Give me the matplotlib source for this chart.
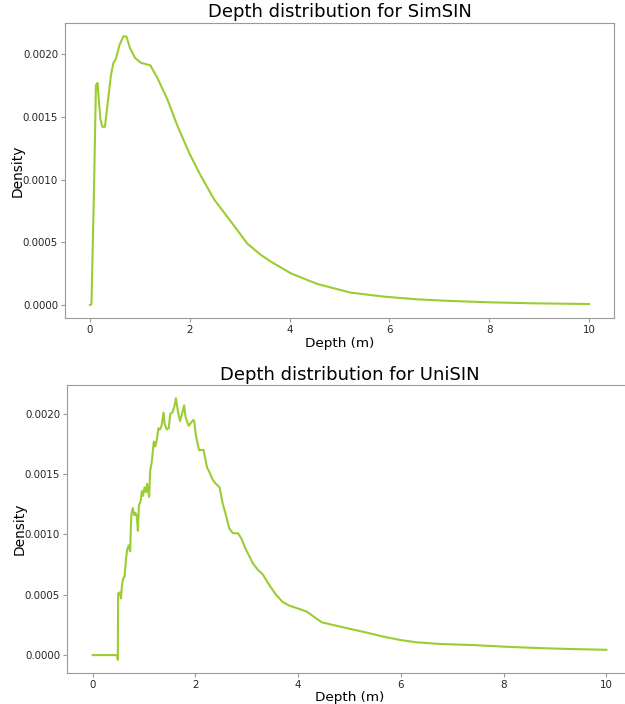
import numpy as np
import matplotlib
matplotlib.use("Agg")
import matplotlib.pyplot as plt
from matplotlib.ticker import FormatStrFormatter

# SimSIN depth density
sim_depth = [0.0, 0.03, 0.08, 0.12, 0.153, 0.18, 0.21, 0.25, 0.30, 0.35,
             0.42, 0.47, 0.52, 0.59, 0.67, 0.73, 0.80, 0.90, 1.02, 1.21,
             1.35, 1.55, 1.75, 1.99, 2.22, 2.49, 2.89, 3.15, 3.42, 3.62,
             4.02, 4.55, 5.22, 5.89, 6.55, 7.22, 8.02, 8.89, 10.0]
sim_density = [0.0, 0.000008, 0.0009, 0.00175, 0.00177, 0.00162, 0.00148, 0.00142, 0.00142, 0.00159,
               0.00183, 0.00193, 0.00196, 0.00207, 0.00214, 0.00214, 0.00205, 0.00197, 0.00193, 0.00191,
               0.00181, 0.00164, 0.00143, 0.00121, 0.00103, 0.00084, 0.00063, 0.00049, 0.00040, 0.000347,
               0.000253, 0.000168, 0.0000987, 0.0000667, 0.0000453, 0.000032, 0.0000213, 0.0000133, 0.000008]

# UniSIN depth density
uni_depth = [0.0, 0.48, 0.49, 0.495, 0.53, 0.55, 0.57, 0.59, 0.62, 0.65,
             0.67, 0.70, 0.73, 0.75, 0.78, 0.81, 0.83, 0.86, 0.88, 0.90,
             0.93, 0.96, 0.98, 1.01, 1.04, 1.06, 1.10, 1.12, 1.15, 1.19,
             1.22, 1.25, 1.28, 1.31, 1.34, 1.38, 1.40, 1.44, 1.48, 1.51,
             1.55, 1.59, 1.62, 1.66, 1.70, 1.74, 1.78, 1.81, 1.87, 1.92,
             1.96, 1.98, 2.01, 2.07, 2.11, 2.16, 2.20, 2.23, 2.27, 2.34,
             2.40, 2.47, 2.53, 2.60, 2.66, 2.73, 2.83, 2.89, 2.99, 3.12,
             3.21, 3.31, 3.44, 3.57, 3.70, 3.83, 4.04, 4.17, 4.30, 4.46,
             4.88, 5.34, 5.66, 5.99, 6.31, 6.77, 7.42, 8.07, 8.71, 9.36,
             10.0]
uni_density = [0.0, 0.0, -0.00004, 0.00051, 0.00052, 0.00047, 0.00058, 0.00063, 0.00065, 0.00080,
               0.00087, 0.00091, 0.00086, 0.00115, 0.00122, 0.00116, 0.00118, 0.00115, 0.00103, 0.00124,
               0.00127, 0.00136, 0.00132, 0.00139, 0.00135, 0.00142, 0.00131, 0.00153, 0.00160, 0.00177,
               0.00173, 0.00179, 0.00188, 0.00187, 0.00190, 0.00201, 0.00192, 0.00187, 0.00188, 0.00200,
               0.00201, 0.00206, 0.00213, 0.00202, 0.00194, 0.00200, 0.00207, 0.00197, 0.00190, 0.00193,
               0.00195, 0.00193, 0.00182, 0.00170, 0.00170, 0.00170, 0.00161, 0.00155, 0.00152, 0.00145,
               0.00142, 0.00139, 0.00126, 0.00115, 0.00105, 0.00101, 0.00101, 0.00097, 0.00087, 0.00076,
               0.00071, 0.00067, 0.00058, 0.00050, 0.00044, 0.00041, 0.00038, 0.00036, 0.00032, 0.000272,
               0.00023, 0.000186, 0.000153, 0.000125, 0.000106, 0.000092, 0.000083, 0.000069, 0.000058, 0.00005,
               0.000044]

line_color = "#9acd32"
spine_color = "#999999"

fig = plt.figure(figsize=(6.25, 7.04), dpi=100)
ax_top = fig.add_axes([0.104, 0.5477, 0.8784, 0.4196])
ax_bot = fig.add_axes([0.1072, 0.044, 0.904, 0.409])

panels = [
    (ax_top, sim_depth, sim_density, "Depth distribution for SimSIN"),
    (ax_bot, uni_depth, uni_density, "Depth distribution for UniSIN"),
]

for ax, xs, ys, title in panels:
    ax.plot(xs, ys, color=line_color, linewidth=1.5)
    ax.set_title(title, fontsize=13, pad=4)
    ax.set_xlabel("Depth (m)", fontsize=9.7, labelpad=1)
    ax.set_ylabel("Density", fontsize=9.9, labelpad=-1.5)
    ax.set_xticks([0, 2, 4, 6, 8, 10])
    ax.set_yticks([0.0, 0.0005, 0.0010, 0.0015, 0.0020])
    ax.yaxis.set_major_formatter(FormatStrFormatter("%.4f"))
    ax.tick_params(labelsize=7.4, colors=spine_color, labelcolor="#262626",
                   length=3, pad=2)
    for side in ax.spines.values():
        side.set_color(spine_color)

plt.savefig("out.png", dpi=100)
